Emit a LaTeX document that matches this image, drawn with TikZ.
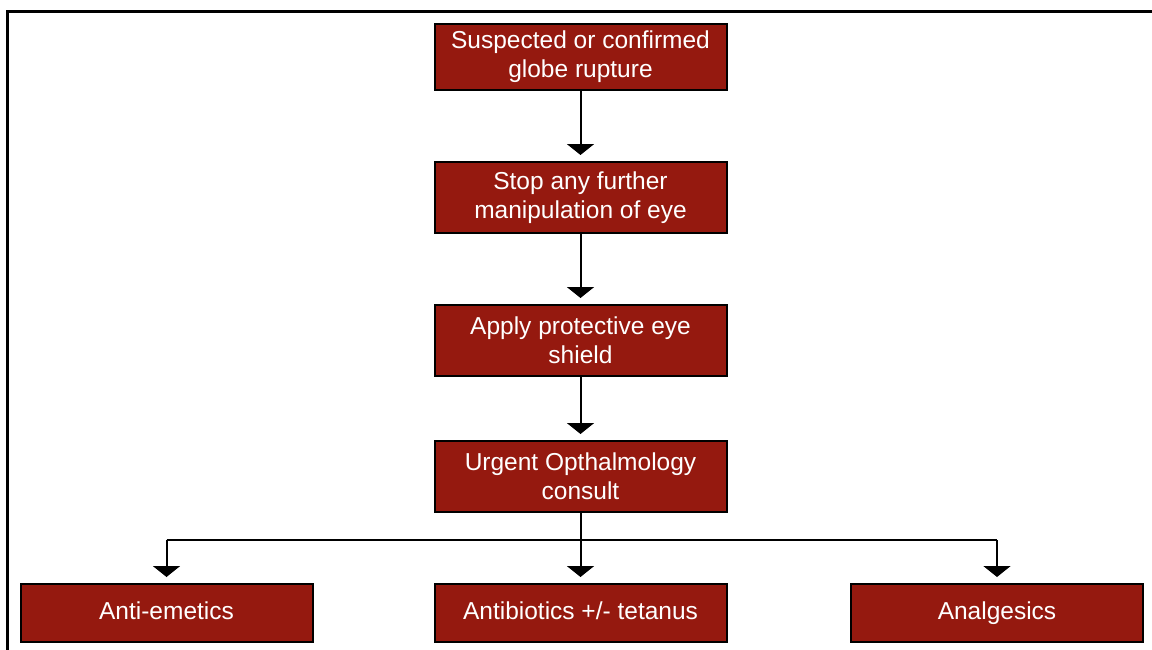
\documentclass[tikz,border=0pt]{standalone}
\usepackage{fontspec}
\setmainfont{Liberation Sans}
\usetikzlibrary{arrows.meta}
\definecolor{boxred}{HTML}{95190F}
\begin{document}
\begin{tikzpicture}[x=1pt,y=-1pt,
  box/.style={draw=black,line width=2pt,fill=boxred,text=white,
    minimum width=292pt,inner sep=0pt,align=center,
    font=\fontsize{24.5pt}{29pt}\selectfont},
  single/.style={text height=18pt,text depth=6pt},
  conn/.style={line width=2pt,-{Triangle[width=27pt,length=11pt]},shorten >=6pt},
  link/.style={line width=2pt}]
\useasboundingbox (0,0) rectangle (1152,649);
\draw[line width=3pt] (7,660) -- (7,11) -- (1160,11);
\node[box,minimum height=66pt] (b1) at (580.5,57) {Suspected or confirmed\\globe rupture};
\node[box,minimum height=71pt] (b2) at (580.5,197.5) {Stop any further\\manipulation of eye};
\node[box,minimum height=71pt] (b3) at (580.5,340.5) {Apply protective eye\\shield};
\node[box,minimum height=71pt] (b4) at (580.5,476.5) {Urgent Opthalmology\\consult};
\node[box,single,minimum height=58pt] (c1) at (166.5,613) {Anti-emetics};
\node[box,single,minimum height=58pt] (c2) at (580.5,613) {Antibiotics +/- tetanus};
\node[box,single,minimum height=58pt] (c3) at (997,613) {Analgesics};
\coordinate (hl) at (166.5,540);
\coordinate (hr) at (997,540);
\draw[conn] (b1) -- (b2);
\draw[conn] (b2) -- (b3);
\draw[conn] (b3) -- (b4);
\draw[conn] (b4) -- (c2);
\draw[link] (hl) -- (hr);
\draw[conn] (hl) -- (c1);
\draw[conn] (hr) -- (c3);
\end{tikzpicture}
\end{document}
